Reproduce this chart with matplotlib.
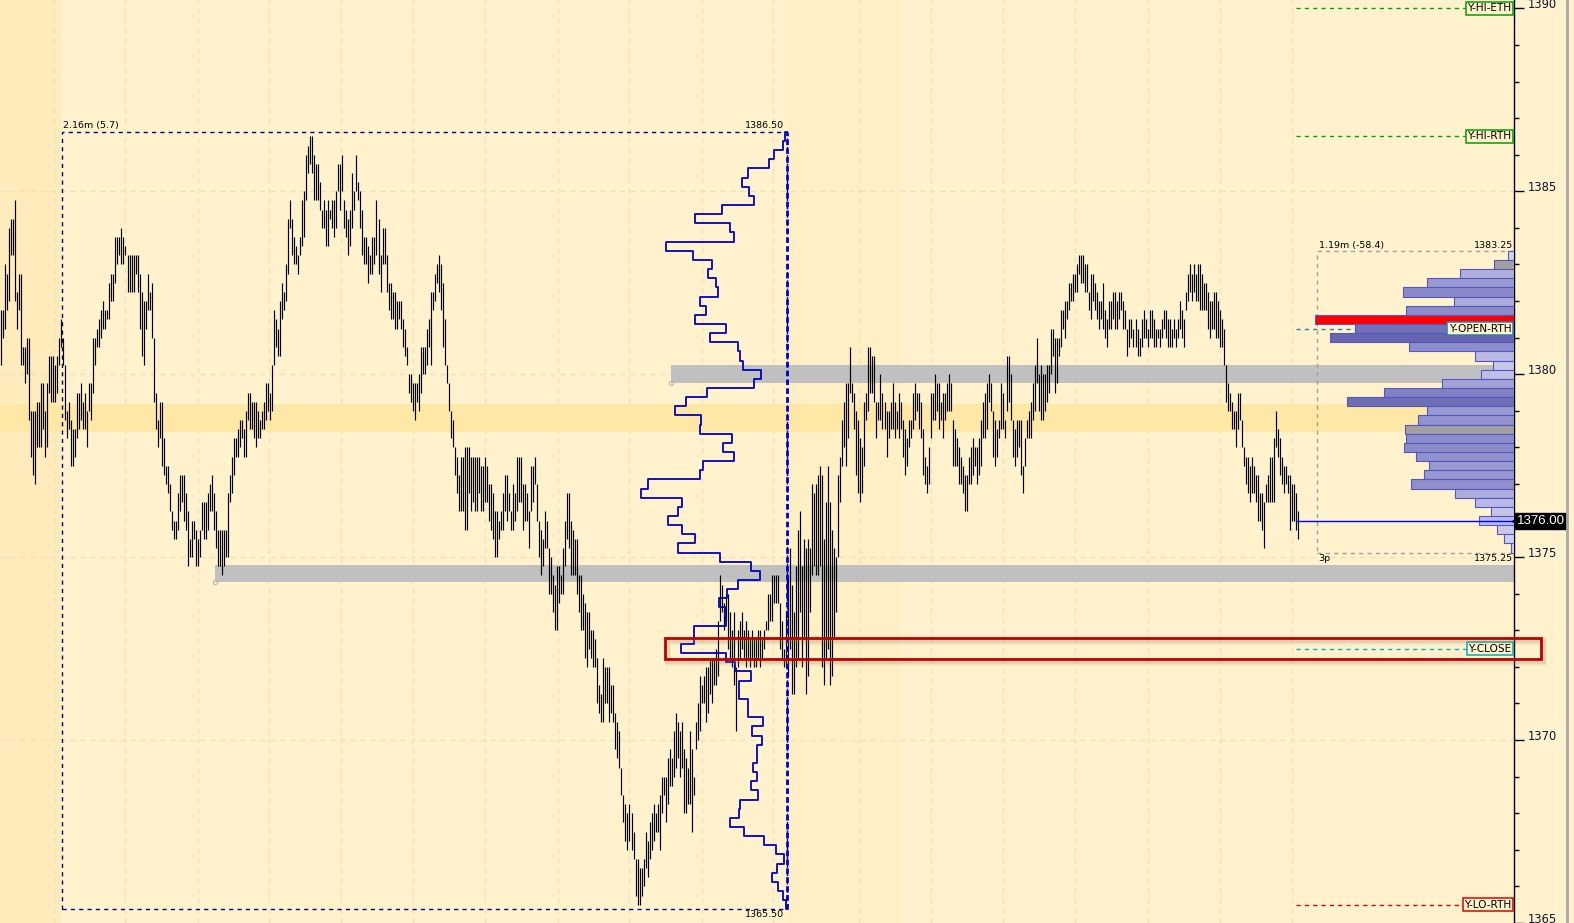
import numpy as np
import matplotlib.pyplot as plt
from matplotlib.patches import Rectangle
from matplotlib.colors import LinearSegmentedColormap
from matplotlib.lines import Line2D

# price scale: bars are stored as (high, low) in 0.25 ticks below the 1386.50 high
TOP = 1386.50
TICK = 0.25

# overnight / early session (left part)
seg1 = [
    (19,25),(19,22),(14,21),(15,19),(10,18),(9,13),(9,13),(7,18),(17,21),(15,19),
    (15,25),(23,25),(23,27),(22,26),(22,31),(30,35),(30,37),(30,38),(29,34),(29,34),
    (27,34),(27,32),(30,35),(27,34),(24,28),(24,29),(24,29),(25,29),(24,28),(22,25),
    (20,23),(22,25),(25,31),(30,33),(29,32),(31,36),(32,36),(32,35),(28,33),(28,32),
    (27,31),(29,32),(28,32),(30,34),(27,30),(27,31),(22,28),(22,25),(21,23),(20,23),
    (19,22),(18,21),(19,21),(19,20),(16,20),(15,18),(15,18),(11,16),(11,14),(11,13),
    (10,14),(11,14),(12,13),(13,17),(13,17),(13,17),(13,17),(13,15),(13,17),(15,21),
    (17,24),(18,25),(18,21),(15,19),(17,19),(16,22),(22,29),(28,32),(31,34),(29,33),
    (29,36),(33,37),(36,38),(36,39),(38,41),(41,43),(42,44),(42,44),(39,43),(37,41),
    (37,40),(37,42),(39,43),(41,47),(44,46),(42,46),(42,44),(43,47),(44,47),(43,46),
    (40,43),(40,44),(40,44),(39,43),(38,41),(37,41),(39,43),(41,45),(43,47),(43,47),
    (43,48),(43,47),(43,46),(39,46),(37,40),(35,39),(33,37),(33,35),(32,35),(31,34),
    (31,33),(32,35),(30,35),(28,31),(28,32),(29,32),(29,33),(29,34),(30,33),(31,33),
    (30,32),(29,32),(27,31),(27,30),(28,31),(25,30),(19,25),(20,23),(21,24),(18,24),
    (16,20),(17,19),(14,18),(9,15),(7,10),(9,13),(11,14),(12,14),(13,15),(11,13),
    (7,12),(6,11),(2,7),(1,4),(0,3),(0,4),(2,7),(3,7),(3,7),(5,8),
    (8,10),(7,10),(8,12),(7,12),(8,9),(7,10),(7,11),(6,10),(3,6),(3,8),
    (2,6),(7,10),(8,11),(9,13),(8,12),(4,10),(6,8),(2,6),(5,7),(6,10),
    (8,13),(11,14),(11,14),(12,16),(13,15),(11,15),(11,14),(7,13),(9,15),(13,17),
    (10,14),(10,14),(13,17),(16,19),(16,20),(17,20),(17,21),(18,21),(18,20),(18,21),
    (20,23),(21,24),(23,25),(26,28),(26,29),(27,30),(27,31),(27,29),(26,30),(23,28),
    (23,26),(23,26),(21,25),(20,23),(17,25),(17,19),(15,18),(14,16),(13,17),(14,19),
    (16,23),(20,25),(25,27),(27,30),(30,33),(31,34),(34,37),(35,39),(37,41),
]

# sell-off to the low and the rebound
seg2 = [
    (35,41),(35,41),(34,43),(34,43),(34,39),(35,41),(35,40),(35,41),
    (35,41),(35,39),(36,41),(36,41),(35,40),(36,40),(38,42),(38,43),
    (39,44),(41,46),(41,46),(42,44),(41,43),(39,43),(37,41),(37,42),
    (39,41),(41,43),(38,43),(39,42),(35,41),(35,40),(35,40),(38,43),
    (38,42),(39,42),(41,45),(36,41),(36,40),(35,38),(38,42),(42,46),
    (43,48),(44,47),(41,45),(42,45),(45,50),(46,50),(48,52),(49,54),
    (47,54),(47,51),(48,50),(45,50),(42,47),(39,44),(39,45),(42,48),
    (43,48),(44,48),(44,50),(48,52),(48,54),(50,54),(51,57),(52,58),
    (52,56),(54,57),(54,58),(55,58),(57,62),(60,63),(61,64),(57,64),
    (58,62),(58,62),(58,64),(60,63),(60,64),(63,67),(64,68),(65,69),
    (69,72),(72,75),(73,77),(74,78),(73,77),(74,78),(76,79),(79,83),
    (79,84),(80,84),(80,83),(79,82),(76,80),(77,81),(75,79),(74,78),
    (73,77),(74,76),(73,76),(72,78),(70,74),(70,72),(70,75),(68,73),
    (67,71),(68,71),(65,70),(63,69),(64,68),(65,70),(64,69),(67,74),
    (68,74),(69,73),(65,73),(67,76),(70,72),(64,67),(62,66),(59,65),
    (60,62),(59,62),(58,64),(58,63),(57,61),(57,62),(57,60),(56,60),
    (53,59),(48,53),(49,52),(51,54),(50,53),(50,56),(52,57),(54,58),
    (52,60),(58,65),(54,58),(53,57),(52,56),(54,57),(53,58),(54,57),
    (55,58),(54,57),(55,58),(55,58),(54,57),(54,58),(55,57),(54,56),
    (53,54),(50,54),(50,53),(48,53),(48,51),(48,51),(48,51),(51,56),
    (53,57),(56,58),(52,58),(48,59),(45,56),(49,61),(52,61),(47,58),
    (43,57),(41,52),(47,58),(44,55),(45,61),(44,59),(45,52),(38,48),
    (39,47),(38,48),(37,48),(36,47),
]

# current session
seg3 = [
    (37,58),(44,60),(40,57),(36,56),(40,60),(43,59),(45,55),(46,52),(37,46),(35,40),
    (31,36),(29,34),(27,36),(27,33),(23,28),(27,29),(28,32),(30,37),(31,39),(33,40),
    (34,39),(29,36),(28,31),(23,30),(23,28),(24,28),(24,29),(29,33),(29,31),(26,31),
    (28,32),(29,32),(30,35),(30,33),(29,32),(27,32),(29,33),(30,32),(28,33),(29,32),
    (31,35),(32,37),(33,36),(31,34),(31,33),(28,32),(27,31),(28,30),(28,32),(29,33),
    (32,37),(35,38),(36,39),(34,38),(28,33),(28,31),(26,31),(27,30),(27,32),(29,31),
    (28,33),(28,31),(27,30),(26,30),(27,30),(31,36),(32,36),(33,36),(34,38),(35,38),
    (36,39),(37,41),(37,41),(35,38),(34,38),(33,37),(34,36),(34,38),(33,37),(31,36),
    (29,33),(28,33),(27,32),(26,29),(27,30),(30,35),(31,36),(32,35),(31,33),(27,32),
    (28,32),(31,33),(24,30),(24,29),(26,31),(31,35),(32,36),(31,35),(31,34),(31,37),
    (36,39),(33,36),(31,33),(30,33),(29,33),(27,31),(25,30),(22,27),(26,30),(25,31),
    (26,31),(26,30),(25,29),(25,28),(21,26),(21,24),(22,28),(22,27),(22,24),(19,23),
    (19,21),(18,22),(18,20),(16,19),(16,18),(15,18),(15,17),(14,17),(13,15),(13,16),
    (13,16),(14,17),(14,17),(17,19),(15,20),(15,18),(16,19),(17,20),(18,21),(18,20),
    (16,21),(19,22),(20,23),(18,21),(18,21),(17,20),(17,21),(18,21),(17,20),(17,19),
    (18,21),(19,21),(21,24),(20,23),(20,22),(21,23),(20,23),(21,24),(22,24),(20,23),
    (19,22),(20,22),(21,23),(19,22),(19,22),(20,23),(21,23),(21,22),(21,23),(20,22),
    (19,21),(19,22),(20,23),(20,23),(21,23),(20,22),(21,23),(20,22),(18,21),(19,22),
    (20,23),(17,19),(15,18),(14,17),(15,18),(14,17),(15,18),(14,18),(14,19),(15,19),
    (16,19),(16,19),(17,21),(18,22),(18,21),(17,21),(17,22),(18,22),(19,23),(20,23),
    (21,25),(25,29),(27,30),(28,30),(29,32),(30,32),(30,34),(28,32),(28,31),(31,34),
    (34,36),(35,38),(35,39),(36,40),(35,39),(36,39),(37,40),(37,42),(39,42),(39,43),
    (40,45),(38,40),(37,40),(35,40),(35,40),(33,40),(30,34),(32,35),(33,37),(35,38),
    (36,39),(36,38),(37,39),(37,43),(38,42),(38,42),(39,43),(41,44),
]

# volume profile of the boxed range, one value per 0.25 level from 1386.50 down to 1365.50
left_profile = [2, 4, 13, 18, 39, 45, 38, 33, 65, 92, 57, 53, 121, 94, 75,
                79, 71, 69, 87, 81, 92, 61, 77, 49, 47, 44, 26, 33, 80, 101,
                112, 86, 87, 55, 64, 53, 84, 87, 139, 146, 105, 109, 119, 105, 92,
                109, 67, 36, 27, 49, 60, 68, 62, 61, 93, 93, 106, 61, 52, 36,
                48, 48, 39, 39, 24, 35, 25, 30, 30, 34, 30, 36, 29, 47, 48,
                57, 43, 23, 11, 3, 10, 15, 9, 4, 1]
left_top, left_bottom = 1386.50, 1365.50

# current session profile, 1383.25 down to 1375.25
right_top, right_bottom = 1383.25, 1375.25
right_profile = [6, 20, 54, 87, 111, 60, 108, 199, 159, 184, 105, 39, 21,
                 33, 72, 130, 167, 87, 96, 109, 108, 110, 98, 85, 90, 103, 59,
                 39, 23, 35, 17, 10, 3]
poc_price = 1381.50
gray_levels = [1383.00, 1378.50]

ref_names = ['Y-HI-ETH', 'Y-HI-RTH', 'Y-OPEN-RTH', 'Y-CLOSE', 'Y-LO-RTH']
ref_prices = [1390.00, 1386.50, 1381.25, 1372.50, 1365.50]
ref_colors = ['#00A000', '#00A000', '#2A7FB0', '#00B0B8', '#E00000']
last_price = 1376.00

upper_zone = (1379.77, 1380.25)
lower_zone = (1374.31, 1374.79)
yellow_zone = (1378.42, 1379.18)

BG = '#FFF2CC'
PX = 2.008  # pixels per bar

bars = seg1 + seg2 + seg3
hi = TOP - TICK * np.array([b[0] for b in bars])
lo = TOP - TICK * np.array([b[1] for b in bars])
x = np.arange(len(bars))

fig = plt.figure(figsize=(15.74, 9.23), dpi=100)
fig.patch.set_facecolor(BG)
ax = fig.add_axes([0, 0, 1514 / 1574, 1])
ax.set_facecolor(BG)
XMAX = 753.5
ax.set_xlim(-0.5, XMAX)
ax.set_ylim(1365.0, 1390.23)

# shaded time strips
ax.axvspan(-0.5, 30, color='#FFEBBC', zorder=0, lw=0)
ax.axvspan(391.4, 448, color='#FFEFC5', zorder=0, lw=0)

# grid
time_grid = [26.2, 61.9, 98.0, 133.6, 169.3, 205.3, 241.2, 277.2, 312.9, 349.0,
             384.6, 427.4, 463.1, 499.2, 535.0, 571.1, 606.9, 642.8]
ax.vlines(time_grid, 1365, 1391, colors='#EEDFBD', lw=0.9, ls=(0, (4, 4)), zorder=0.5)
ax.hlines([1370, 1375, 1380, 1385], -0.5, XMAX, colors='#EEDFBD', lw=0.9,
          ls=(0, (4, 4)), zorder=0.5)

# zones
ax.axhspan(*yellow_zone, color='#FFE8A6', lw=0, zorder=1)
ax.add_patch(Rectangle((333.7, upper_zone[0]), XMAX - 333.7, upper_zone[1] - upper_zone[0],
                       color='#C0C0C0', lw=0, zorder=1))
ax.add_patch(Rectangle((106.6, lower_zone[0]), XMAX - 106.6, lower_zone[1] - lower_zone[0],
                       color='#C0C0C0', lw=0, zorder=1))
ax.plot([333.7, 106.6], [upper_zone[0], lower_zone[0]], 'o', ls='none', mfc='none',
        mec='#B5B5B5', ms=3, mew=0.8, zorder=1.5)

# price bars
ax.vlines(x, lo, hi, colors='black', lw=0.85, zorder=3)

# left range box and profile
R = 391.4
ax.add_patch(Rectangle((30.4, left_bottom - 0.125), R - 30.4, left_top - left_bottom + 0.25,
                       fill=False, ec='#000080', lw=1, ls=(0, (3, 3)), zorder=4))
ax.vlines(R, left_bottom - 0.125, left_top + 0.125, colors='#0000D8', lw=2,
          ls=(0, (2, 1.2)), zorder=4)
xs, ys = [R], [left_top + 0.125]
for k, w in enumerate(left_profile):
    p = left_top - k * TICK
    xs += [R - w / PX, R - w / PX]
    ys += [p + 0.125, p - 0.125]
xs.append(R)
ys.append(ys[-1])
ax.plot(xs, ys, color='#0000C0', lw=1.3, zorder=4)
ax.text(30.9, left_top + 0.17, '2.16m (5.7)', fontsize=6.8, va='bottom', ha='left', zorder=5)
ax.text(390, left_top + 0.17, '1386.50', fontsize=6.8, va='bottom', ha='right', zorder=5)
ax.text(390, left_bottom - 0.15, '1365.50', fontsize=6.8, va='top', ha='right', zorder=5)

# reference lines from the prior day
for name, p, c in zip(ref_names, ref_prices, ref_colors):
    ax.plot([645, XMAX], [p, p], color=c, lw=1, ls=(0, (3, 3)), zorder=2)
    ax.text(752.3, p, name, fontsize=7.6, ha='right', va='center', zorder=6,
            bbox=dict(boxstyle='square,pad=0.15', fc=BG, ec=c, lw=1.1))

# current session profile
rp = np.array(right_profile) / PX
rprices = right_top - TICK * np.arange(len(right_profile))
cmap = LinearSegmentedColormap.from_list('vp', ['#D4D4F2', '#9090CE', '#5E5EAC'])
cols = [cmap(v / max(right_profile)) for v in right_profile]
for i, p in enumerate(rprices):
    if p == poc_price:
        cols[i] = '#FF0000'
    elif p in gray_levels:
        cols[i] = '#A0A0A0'
ax.barh(rprices, rp, left=XMAX - rp, height=TICK, color=cols, ec='#5656C2', lw=0.8, zorder=5)
ax.add_patch(Rectangle((655.4, right_bottom - 0.125), XMAX - 655.4, right_top - right_bottom + 0.25,
                       fill=False, ec='#A0A0A0', lw=1, ls=(0, (3, 3)), zorder=4))
ax.text(656.4, right_top + 0.15, '1.19m (-58.4)', fontsize=6.8, va='bottom', ha='left', zorder=6)
ax.text(753, right_top + 0.15, '1383.25', fontsize=6.8, va='bottom', ha='right', zorder=6)
ax.text(656.0, right_bottom - 0.15, '3p', fontsize=6.8, va='top', ha='left', zorder=6)
ax.text(753, right_bottom - 0.15, '1375.25', fontsize=6.8, va='top', ha='right', zorder=6)

# last price
ax.plot([645, XMAX], [last_price, last_price], color='#0000FF', lw=1, zorder=6)
ax.plot(XMAX + 0.3, last_price, marker='<', color='black', ms=5, clip_on=False, zorder=7)
ax.text(XMAX + 1.3, last_price, f'{last_price:.2f}', color='white', fontsize=9.5,
        family='Liberation Sans', ha='left', va='center', clip_on=False, zorder=7,
        bbox=dict(boxstyle='square,pad=0.15', fc='black', ec='black'))

# red highlight box around yesterday's close
yc = ref_prices[3]
for off, a in [(0.25, 0.12), (0.15, 0.18)]:
    ax.add_patch(Rectangle((330.7 + off * 6, yc - 0.29 - off * 0.4), 767 - 330.7, 0.58,
                           fill=False, ec='#8C8060', lw=4, alpha=a, clip_on=False, zorder=6))
ax.add_patch(Rectangle((330.7, yc - 0.29), 767 - 330.7, 0.58, fill=False, ec='#C00000',
                       lw=2, clip_on=False, zorder=7))

# price axis on the right
ax.yaxis.tick_right()
ax.set_yticks(np.arange(1365, 1391, 5))
ax.set_yticks(np.arange(1365, 1391, 1), minor=True)
ax.tick_params(axis='y', which='major', length=7, width=1, pad=3, labelsize=8.3,
               labelcolor='#101030', direction='out')
ax.tick_params(axis='y', which='minor', length=3.5, width=1, direction='out')
for t in ax.yaxis.get_major_ticks():
    t.label2.set_verticalalignment('baseline')
ax.set_xticks([])
for s in ['left', 'top', 'bottom']:
    ax.spines[s].set_visible(False)
ax.spines['right'].set_linewidth(1)

fig.add_artist(Line2D([1566.5 / 1574] * 2, [0, 1], transform=fig.transFigure,
                      color='#A8A8A8', lw=2))

fig.savefig('out.png', dpi=100, facecolor=BG)
